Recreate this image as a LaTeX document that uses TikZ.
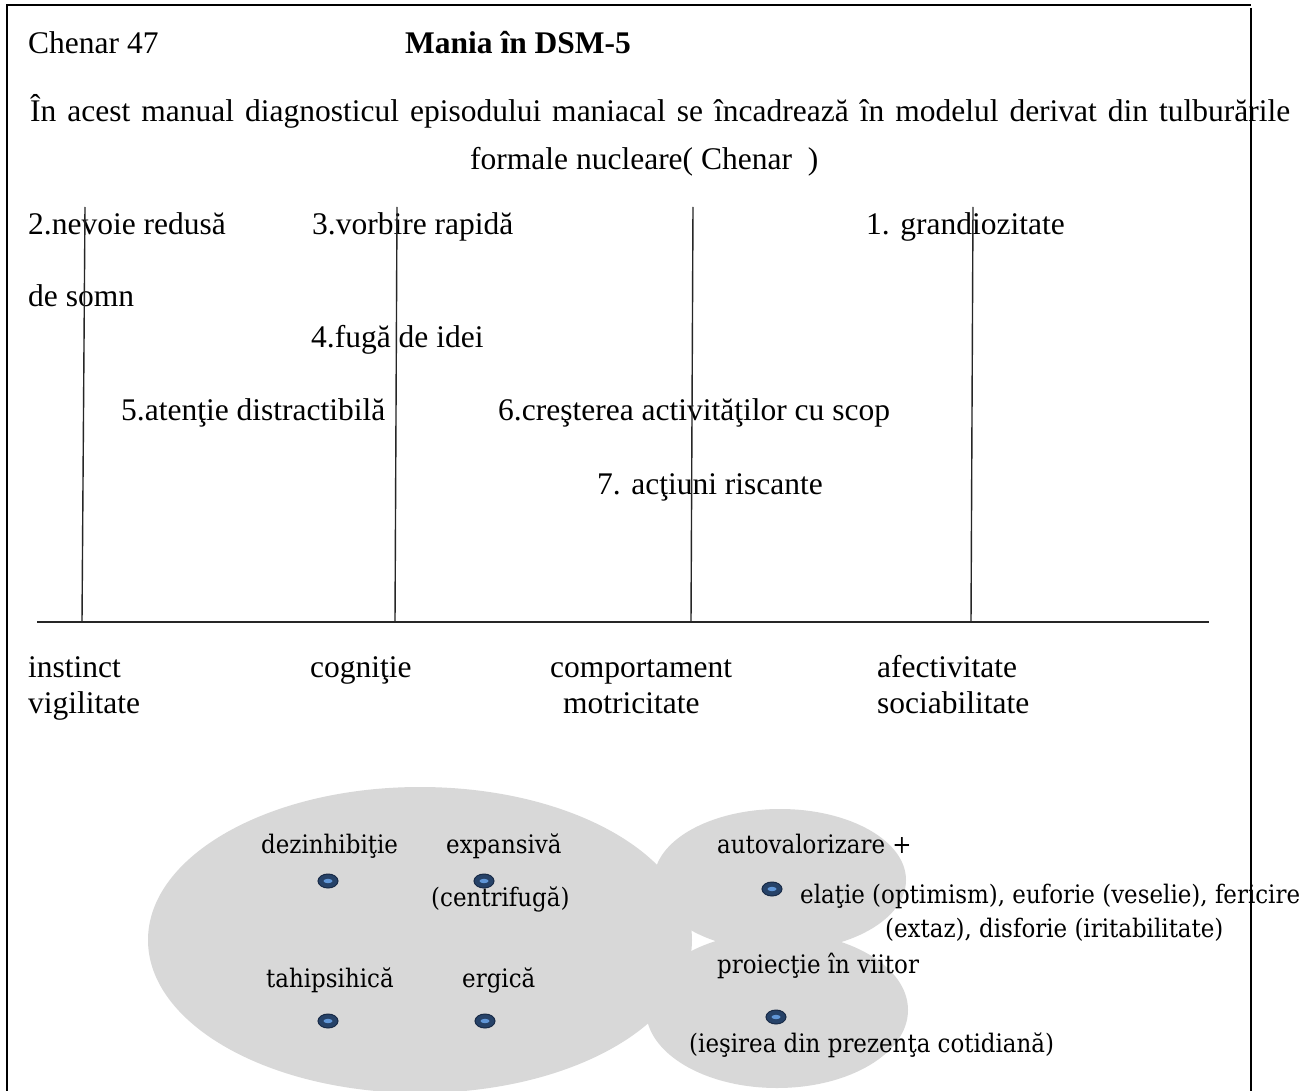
\documentclass[tikz,border=0pt]{standalone}
\usepackage{fontspec}
\setmainfont{Liberation Serif}
\newfontfamily\cmb[FakeStretch=0.9]{DejaVu Serif}
\usetikzlibrary{shapes.geometric}
\definecolor{blobgray}{RGB}{216,216,216}
\definecolor{bulletdark}{RGB}{38,66,104}
\definecolor{bulletedge}{RGB}{24,42,70}
\definecolor{bulletlight}{RGB}{96,150,215}
\tikzset{
  txt/.style={inner sep=0pt, anchor=base west, font=\fontsize{31.5}{36}\selectfont},
  ctxt/.style={inner sep=0pt, anchor=base west, font=\cmb\fontsize{25.5}{30}\selectfont},
  frameline/.style={line width=1.8pt, black},
  axisline/.style={line width=1.4pt, black!85},
  blob/.style={fill=blobgray, draw=none},
  bulletmark/.style={ellipse, minimum width=20pt, minimum height=14pt, inner sep=0pt, fill=bulletdark, draw=bulletedge, line width=1pt}
}
\begin{document}
\begin{tikzpicture}[x=1pt,y=-1pt]
\useasboundingbox (0,0) rectangle (1301,1091);
\clip (0,0) rectangle (1301,1091);
\fill[white] (0,0) rectangle (1301,1091);

% grey blobs
\fill[blob] (420,940) ellipse [x radius=272, y radius=153];
\fill[blob] (780,880) ellipse [x radius=126, y radius=71];
\fill[blob] (777,1010) ellipse [x radius=131, y radius=78];

% bullets
\foreach \n/\x/\y in {b1/328/881, b2/484/881, b3/328/1021, b4/485/1021, b5/772/889, b6/776/1017}{
  \node[bulletmark] (\n) at (\x,\y) {};
  \fill[bulletlight] (\x,\y) ellipse [x radius=4.5, y radius=2.2];
}

% frame
\coordinate (tl) at (7,5);
\coordinate (tr) at (1251,5);
\coordinate (bl) at (7,1095);
\coordinate (br) at (1251,1095);

% texts top
\node[txt] (chenar) at (28,54) {Chenar 47};
\node[txt, font=\bfseries\fontsize{31.5}{36}\selectfont] (title) at (405,54) {Mania în DSM-5};
\node[txt] (par1) at (30,122) {\makebox[1260pt][s]{În acest manual diagnosticul episodului maniacal se încadrează în modelul derivat din tulburările}};
\node[txt] (par2) at (470,170) {formale nucleare( Chenar~\ )};

\node[txt] (s2) at (28,235) {2.nevoie redusă};
\node[txt] (s3) at (312,235) {3.vorbire rapidă};
\node[txt] (s1) at (866,235) {1. grandiozitate};
\node[txt] (s2b) at (28,307) {de somn};
\node[txt] (s4) at (311,347) {4.fugă de idei};
\node[txt] (s5) at (121,420) {5.atenţie distractibilă};
\node[txt] (s6) at (498,420) {6.creşterea activităţilor cu scop};
\node[txt] (s7) at (597,494) {7. acţiuni riscante};

\node[txt] (d1a) at (28,677) {instinct};
\node[txt] (d1b) at (28,713) {vigilitate};
\node[txt] (d2a) at (310,677) {cogniţie};
\node[txt] (d3a) at (550,677) {comportament};
\node[txt] (d3b) at (563,713) {motricitate};
\node[txt] (d4a) at (877,677) {afectivitate};
\node[txt] (d4b) at (877,713) {sociabilitate};

% blob texts
\node[ctxt] (e1) at (261,853) {dezinhibiţie};
\node[ctxt] (e2) at (446,853) {expansivă};
\node[ctxt] (e2b) at (431,906) {(centrifugă)};
\node[ctxt] (e3) at (266,987) {tahipsihică};
\node[ctxt] (e4) at (462,987) {ergică};
\node[ctxt] (r1) at (717,853) {autovalorizare +};
\node[ctxt] (r2) at (800,903) {elaţie (optimism), euforie (veselie), fericire};
\node[ctxt] (r3) at (885,937) {(extaz), disforie (iritabilitate)};
\node[ctxt] (r4) at (717,973) {proiecţie în viitor};
\node[ctxt] (r5) at (689,1052) {(ieşirea din prezenţa cotidiană)};

% axis lines
\coordinate (v1t) at (85,207);  \coordinate (v1b) at (82,622);
\coordinate (v2t) at (397,207); \coordinate (v2b) at (395,622);
\coordinate (v3t) at (693,207); \coordinate (v3b) at (691,622);
\coordinate (v4t) at (973,207); \coordinate (v4b) at (971,622);
\coordinate (hl) at (37,622);   \coordinate (hr) at (1209,622);
\draw[axisline] (v1t) -- (v1b);
\draw[axisline] (v2t) -- (v2b);
\draw[axisline] (v3t) -- (v3b);
\draw[axisline] (v4t) -- (v4b);
\draw[axisline] (hl) -- (hr);

% frame lines
\draw[frameline] (bl) -- (tl) -- (tr);
\draw[frameline] (1251,8) -- (br);
\end{tikzpicture}
\end{document}
